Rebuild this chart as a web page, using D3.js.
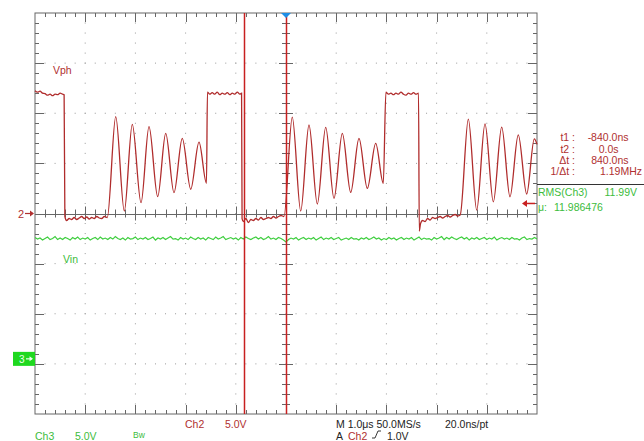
<!DOCTYPE html>
<html>
<head>
<meta charset="utf-8">
<script src="https://cdn.jsdelivr.net/npm/d3@7"></script>
<style>
  body { margin: 0; background: #fff; }
  svg { display: block; font-family: "Liberation Sans", Arial, sans-serif; }
</style>
</head>
<body>
<div id="scopeId"></div>
<script>
/* global d3 */

// ---- data ----

// Ch2 (Vph), time in us, volts
var ch2Trace = [
    [-5.00, 12.25], [-4.95, 12.1], [-4.90, 12.2], [-4.85, 12.0], [-4.80, 11.95], [-4.75, 11.8],
    [-4.70, 11.9], [-4.65, 11.75], [-4.60, 11.9], [-4.55, 11.85], [-4.50, 12.0], [-4.45, 11.9], [-4.42, 11.85],
    [-4.405, -0.3], [-4.37, -0.7], [-4.32, -0.5], [-4.27, -0.6], [-4.22, -0.4], [-4.17, -0.6], [-4.12, -0.45],
    [-4.07, -0.3], [-4.02, -0.5], [-3.97, -0.35], [-3.92, -0.55], [-3.87, -0.4], [-3.82, -0.5], [-3.77, -0.3],
    [-3.72, -0.45], [-3.67, -0.5], [-3.62, -0.3], [-3.56, -0.4],
    [-3.392, 9.66], [-3.221, 0.25], [-3.062, 8.90], [-2.888, 1.08], [-2.729, 8.66], [-2.556, 1.68],
    [-2.396, 8.00], [-2.231, 2.08], [-2.066, 7.50], [-1.898, 2.42], [-1.733, 7.11], [-1.584, 3.01],
    [-1.565, 12.1], [-1.52, 11.9], [-1.47, 12.05], [-1.42, 11.9], [-1.37, 12.1], [-1.32, 11.85], [-1.27, 12.0],
    [-1.22, 11.9], [-1.17, 12.05], [-1.12, 11.85], [-1.07, 12.0], [-1.02, 11.9], [-0.97, 12.1], [-0.92, 11.9], [-0.885, 12.0],
    [-0.875, -0.5], [-0.85, -0.8], [-0.80, -0.5], [-0.75, -0.9], [-0.70, -0.6], [-0.65, -0.7], [-0.60, -0.5],
    [-0.55, -0.65], [-0.50, -0.4], [-0.45, -0.6], [-0.40, -0.5], [-0.35, -0.4], [-0.30, -0.5], [-0.25, -0.3],
    [-0.20, -0.45], [-0.15, -0.3], [-0.10, -0.2], [-0.04, -0.3],
    [0.125, 9.61], [0.293, 0.25], [0.458, 8.83], [0.624, 0.95], [0.791, 8.60], [0.956, 1.51],
    [1.122, 8.00], [1.289, 2.11], [1.454, 7.50], [1.620, 2.51], [1.787, 7.00], [1.938, 3.01],
    [1.99, 12.1], [2.04, 11.9], [2.09, 12.0], [2.14, 11.85], [2.19, 12.0], [2.24, 11.9], [2.29, 12.1],
    [2.34, 11.9], [2.39, 11.8], [2.44, 12.0], [2.49, 11.9], [2.54, 12.05], [2.59, 11.9], [2.64, 12.0],
    [2.655, -1.75], [2.68, -1.0], [2.72, -0.7], [2.77, -0.8], [2.82, -0.5], [2.87, -0.65], [2.92, -0.4],
    [2.97, -0.5], [3.02, -0.4], [3.07, -0.3], [3.12, -0.45], [3.17, -0.3], [3.22, -0.2], [3.27, -0.35],
    [3.32, -0.2], [3.37, -0.1], [3.42, -0.25], [3.47, -0.15],
    [3.632, 9.42], [3.799, 0.35], [3.964, 8.95], [4.130, 1.17], [4.297, 8.62], [4.462, 1.67],
    [4.627, 7.85], [4.795, 1.94], [4.946, 7.45], [5.00, 6.9]
];

// Ch3 (Vin), volts every 0.05 us from -5 us
var ch3Start = -5;
var ch3Step = 0.05;
var ch3Values = [
    12.1, 11.95, 12.05, 11.85, 12.0, 12.15, 11.9, 12.0, 12.2, 11.9,
    12.05, 11.9, 12.1, 12.0, 11.85, 12.1, 11.95, 12.15, 11.9, 12.05,
    11.95, 12.1, 11.85, 12.0, 12.1, 11.9, 12.15, 11.95, 12.05, 11.9,
    12.1, 11.95, 12.2, 12.0, 11.9, 12.05, 11.85, 12.1, 11.95, 12.0,
    12.15, 11.9, 12.05, 11.95, 12.1, 11.9, 12.0, 12.15, 11.85, 12.05,
    11.95, 12.1, 11.9, 12.05, 12.2, 11.95, 12.0, 11.85, 12.1, 11.95,
    12.05, 11.9, 12.15, 12.0, 11.9, 12.1, 11.95, 12.05, 11.85, 12.1,
    12.0, 11.9, 12.15, 11.95, 12.05, 12.2, 11.9, 12.0, 12.1, 11.95,
    12.05, 11.85, 12.1, 11.95, 12.15, 12.0, 11.9, 12.05, 12.15, 11.95,
    12.1, 11.9, 12.0, 12.2, 11.95, 12.05, 11.9, 12.1, 12.0, 11.85,
    11.65, 11.9, 12.05, 11.95, 12.1, 11.85, 12.0, 12.1, 11.9, 12.05,
    11.95, 12.1, 11.85, 12.0, 12.15, 11.9, 12.05, 11.95, 12.1, 11.9,
    12.0, 12.1, 11.85, 11.95, 12.05, 11.9, 12.1, 11.95, 12.0, 11.85,
    12.05, 11.95, 12.1, 11.9, 12.0, 12.15, 11.95, 12.05, 11.85, 12.0,
    11.9, 12.1, 11.95, 12.05, 11.85, 12.0, 12.1, 11.9, 12.05, 11.95,
    12.1, 11.85, 12.0, 12.15, 11.9, 12.05, 11.95, 12.0, 11.85, 12.1,
    11.95, 12.05, 12.2, 11.9, 12.1, 11.95, 12.15, 12.0, 11.9, 12.05,
    12.15, 11.95, 12.1, 11.85, 12.05, 11.95, 12.1, 11.9, 12.0, 12.1,
    11.9, 12.05, 11.95, 12.15, 11.85, 12.0, 12.1, 11.95, 12.05, 11.9,
    12.1, 11.95, 12.0, 11.85, 12.05, 12.15, 11.9, 12.0, 11.95, 12.1,
    11.95
];

var ch2VoltsPerDiv = 5;
var ch3VoltsPerDiv = 5;
var ch2OffsetDiv = 0;
var ch3OffsetDiv = -2.9;
var triggerLevel = 1.0;
var cursorTimes = [-0.84, 0.0];

var cursorLabels = ["t1 :", "t2 :", "\u0394t :", "1/\u0394t :"];
var cursorValues = ["-840.0ns", "0.0s", "840.0ns", "1.19MHz"];
var measLabels = ["RMS(Ch3)", "\u03bc:"];
var measValues = ["11.99V", "11.986476"];


(function() {

    "use strict";

    var W = 644, H = 441;
    var plot = {left: 35, right: 537, top: 13, bottom: 414};

    var redTrace = "#b02c2c";
    var redText = "#b03030";
    var greenTrace = "#3fce3f";
    var greenText = "#3cbc3c";
    var frameColor = "#666";

    var xScale = d3.scaleLinear().domain([-5, 5]).range([plot.left, plot.right]);
    var yDiv = d3.scaleLinear().domain([-4, 4]).range([plot.bottom, plot.top]);

    function ch2Y(v) { return yDiv(v / ch2VoltsPerDiv + ch2OffsetDiv); }
    function ch3Y(v) { return yDiv(v / ch3VoltsPerDiv + ch3OffsetDiv); }

    var svg = d3.select("#scopeId").append("svg")
        .attr("width", W).attr("height", H);

    // graticule dots
    var grid = svg.append("g").attr("fill", "#9a9a9a");
    var minorX = d3.range(-24, 25).map(function(i) { return i / 5; });
    var minorY = d3.range(-19, 20).map(function(i) { return i / 5; });
    d3.range(-4, 5).forEach(function(gx) {
        if (gx === 0) return;
        grid.selectAll(null).data(minorY)
            .enter().append("rect")
            .attr("x", xScale(gx) - 0.5).attr("y", function(d) { return yDiv(d) - 0.5; })
            .attr("width", 1).attr("height", 1);
    });
    d3.range(-3, 4).forEach(function(gy) {
        if (gy === 0) return;
        grid.selectAll(null).data(minorX)
            .enter().append("rect")
            .attr("x", function(d) { return xScale(d) - 0.5; }).attr("y", yDiv(gy) - 0.5)
            .attr("width", 1).attr("height", 1);
    });

    // frame and centre crosshair with ticks
    var frame = svg.append("g").attr("stroke", frameColor).attr("stroke-width", 1).attr("fill", "none");
    frame.append("rect")
        .attr("x", plot.left).attr("y", plot.top)
        .attr("width", plot.right - plot.left).attr("height", plot.bottom - plot.top);

    var xTicks = d3.range(-25, 26).map(function(i) { return i / 5; });
    var yTicks = d3.range(-20, 21).map(function(i) { return i / 5; });
    function isMajor(d) { return Math.abs(d - Math.round(d)) < 1e-6; }

    xTicks.forEach(function(d) {
        if (Math.abs(d) === 5) return;
        var x = Math.round(xScale(d)) + 0.5;
        var len = isMajor(d) ? 9 : 4;
        frame.append("line").attr("x1", x).attr("x2", x).attr("y1", plot.top).attr("y2", plot.top + len);
        frame.append("line").attr("x1", x).attr("x2", x).attr("y1", plot.bottom).attr("y2", plot.bottom - len);
        frame.append("line").attr("x1", x).attr("x2", x).attr("y1", yDiv(0) - (isMajor(d) ? 7 : 4)).attr("y2", yDiv(0) + (isMajor(d) ? 7 : 4));
    });
    yTicks.forEach(function(d) {
        if (Math.abs(d) === 4) return;
        var y = Math.round(yDiv(d)) + 0.5;
        var len = isMajor(d) ? 9 : 4;
        frame.append("line").attr("x1", plot.left).attr("x2", plot.left + len).attr("y1", y).attr("y2", y);
        frame.append("line").attr("x1", plot.right).attr("x2", plot.right - len).attr("y1", y).attr("y2", y);
        frame.append("line").attr("x1", xScale(0) - (isMajor(d) ? 7 : 4)).attr("x2", xScale(0) + (isMajor(d) ? 7 : 4)).attr("y1", y).attr("y2", y);
    });
    frame.append("line").attr("x1", plot.left).attr("x2", plot.right).attr("y1", Math.round(yDiv(0)) + 0.5).attr("y2", Math.round(yDiv(0)) + 0.5);
    frame.append("line").attr("x1", Math.round(xScale(0)) + 0.5).attr("x2", Math.round(xScale(0)) + 0.5).attr("y1", plot.top).attr("y2", plot.bottom);

    // Ch3 trace
    var ch3Line = d3.line()
        .x(function(d, i) { return xScale(ch3Start + i * ch3Step); })
        .y(function(d) { return ch3Y(d); });
    svg.append("path").datum(ch3Values)
        .attr("d", ch3Line).attr("fill", "none")
        .attr("stroke", greenTrace).attr("stroke-width", 1.2);

    // Ch2 trace
    var ch2Line = d3.line()
        .x(function(d) { return xScale(d[0]); })
        .y(function(d) { return ch2Y(d[1]); })
        .curve(d3.curveMonotoneX);
    svg.append("path").datum(ch2Trace)
        .attr("d", ch2Line).attr("fill", "none")
        .attr("stroke", redTrace).attr("stroke-width", 1.3);

    // cursors
    svg.selectAll(".cursor").data(cursorTimes).enter().append("line")
        .attr("class", "cursor")
        .attr("x1", function(d) { return Math.round(xScale(d)) + 0.5; })
        .attr("x2", function(d) { return Math.round(xScale(d)) + 0.5; })
        .attr("y1", plot.top).attr("y2", plot.bottom)
        .attr("stroke", "#c82020").attr("stroke-width", 1.5);

    // trigger position marker
    var tx = xScale(0);
    svg.append("path")
        .attr("d", "M" + (tx - 5) + "," + plot.top + "L" + (tx + 5) + "," + plot.top + "L" + tx + "," + (plot.top + 5) + "Z")
        .attr("fill", "#1e8ee6");

    // Ch2 ground marker
    var g2 = ch2Y(0);
    svg.append("text").attr("x", 18).attr("y", g2 + 4).attr("fill", redText)
        .attr("font-size", 11).text("2");
    svg.append("line").attr("x1", 25).attr("x2", 33).attr("y1", g2).attr("y2", g2)
        .attr("stroke", redText).attr("stroke-width", 1.2);
    svg.append("path").attr("d", "M34," + g2 + "L30," + (g2 - 3) + "L30," + (g2 + 3) + "Z").attr("fill", redText);

    // Ch3 ground marker
    var g3 = ch3Y(0);
    svg.append("rect").attr("x", 13).attr("y", g3 - 7).attr("width", 22).attr("height", 14).attr("fill", "#1fd81f");
    svg.append("text").attr("x", 19).attr("y", g3 + 4).attr("fill", "#e8ffe8")
        .attr("font-size", 10).text("3");
    svg.append("line").attr("x1", 26).attr("x2", 32).attr("y1", g3).attr("y2", g3)
        .attr("stroke", "#e8ffe8").attr("stroke-width", 1.2);
    svg.append("path").attr("d", "M33," + g3 + "L29.5," + (g3 - 2.5) + "L29.5," + (g3 + 2.5) + "Z").attr("fill", "#e8ffe8");

    // trigger level marker on right
    var tl = ch2Y(triggerLevel);
    svg.append("line").attr("x1", 525).attr("x2", 535).attr("y1", tl).attr("y2", tl)
        .attr("stroke", "#c82020").attr("stroke-width", 1.5);
    svg.append("path").attr("d", "M522," + tl + "L527," + (tl - 3.5) + "L527," + (tl + 3.5) + "Z").attr("fill", "#c82020");

    // channel labels
    svg.append("text").attr("x", 53).attr("y", 73.5).attr("fill", redText).attr("font-size", 10.5).text("Vph");
    svg.append("text").attr("x", 63).attr("y", 263).attr("fill", greenText).attr("font-size", 10.5).text("Vin");

    // cursor readout
    var readout = svg.append("g").attr("font-size", 10.5).attr("fill", redText);
    var rowY = [141, 152.5, 164, 175];
    var valueX = [628.5, 618.5, 628.5, 642];
    cursorLabels.forEach(function(d, i) {
        readout.append("text").attr("x", 575).attr("y", rowY[i]).attr("text-anchor", "end").text(d);
        readout.append("text").attr("x", valueX[i]).attr("y", rowY[i]).attr("text-anchor", "end").text(cursorValues[i]);
    });
    svg.append("line").attr("x1", plot.right).attr("x2", W).attr("y1", 184.5).attr("y2", 184.5)
        .attr("stroke", "#333").attr("stroke-width", 1);

    var meas = svg.append("g").attr("font-size", 10.5).attr("fill", greenText);
    meas.append("text").attr("x", 538).attr("y", 195.5).text(measLabels[0]);
    meas.append("text").attr("x", 637).attr("y", 195.5).attr("text-anchor", "end").text(measValues[0]);
    meas.append("text").attr("x", 538).attr("y", 211).text(measLabels[1]);
    meas.append("text").attr("x", 554).attr("y", 211).text(measValues[1]);

    // bottom status lines
    var status = svg.append("g").attr("font-size", 10.5);
    status.append("text").attr("x", 185).attr("y", 428).attr("fill", redText).text("Ch2");
    status.append("text").attr("x", 225).attr("y", 428).attr("fill", redText).text("5.0V");
    status.append("text").attr("x", 336).attr("y", 428).attr("fill", "#222").text("M 1.0\u03bcs 50.0MS/s");
    status.append("text").attr("x", 445).attr("y", 428).attr("fill", "#222").text("20.0ns/pt");

    status.append("text").attr("x", 35).attr("y", 440).attr("fill", greenText).text("Ch3");
    status.append("text").attr("x", 75).attr("y", 440).attr("fill", greenText).text("5.0V");
    status.append("text").attr("x", 133).attr("y", 438).attr("fill", greenText).attr("font-size", 8.5).text("Bw");
    status.append("text").attr("x", 336).attr("y", 440).attr("fill", "#222").text("A");
    status.append("text").attr("x", 348).attr("y", 440).attr("fill", redText).text("Ch2");
    status.append("path").attr("d", "M372,438 L375,438 L378,431 L381,431")
        .attr("fill", "none").attr("stroke", "#222").attr("stroke-width", 0.9);
    status.append("text").attr("x", 387).attr("y", 440).attr("fill", "#222").text(d3.format(".1f")(triggerLevel) + "V");

})();
</script>
</body>
</html>
